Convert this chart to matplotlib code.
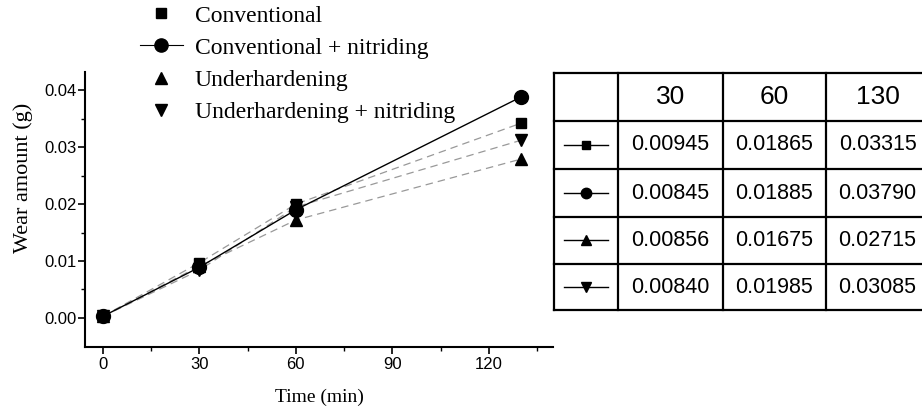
import matplotlib
matplotlib.use("Agg")
import matplotlib.pyplot as plt
from matplotlib.lines import Line2D

# data
time = [0, 30, 60, 130]
conv = [0.0003, 0.0097, 0.0200, 0.0342]
conv_nit = [0.0003, 0.0089, 0.0190, 0.0388]
under = [0.0003, 0.0091, 0.0172, 0.0279]
under_nit = [0.0003, 0.0084, 0.0195, 0.0312]

labels = ["Conventional", "Conventional + nitriding",
          "Underhardening", "Underhardening + nitriding"]
markers = ["s", "o", "^", "v"]
msizes = [7.5, 10, 9, 9]

# table in the figure
tab_cols = ["30", "60", "130"]
tab_vals = [["0.00945", "0.01865", "0.03315"],
            ["0.00845", "0.01885", "0.03790"],
            ["0.00856", "0.01675", "0.02715"],
            ["0.00840", "0.01985", "0.03085"]]

serif = "Liberation Serif"
sans = "Liberation Sans"

W, H = 922, 411
fig = plt.figure(figsize=(W / 100, H / 100), dpi=100)

# main plot, placed in pixel terms
L, R, T, B = 85, 553, 72, 347
ax = fig.add_axes([L / W, (H - B) / H, (R - L) / W, (B - T) / H])

series = [conv, conv_nit, under, under_nit]
for i, ys in enumerate(series):
    if i == 1:
        ax.plot(time, ys, color="black", lw=1.0, zorder=3)
    else:
        ax.plot(time, ys, color="0.6", lw=0.9, ls=(0, (6, 4)), zorder=2)
    ax.plot(time, ys, ls="none", marker=markers[i], ms=msizes[i],
            color="black", zorder=4)

ax.set_xlim(-5.6, 140)
ax.set_ylim(-0.0051, 0.0432)
ax.set_xticks([0, 30, 60, 90, 120])
ax.set_xticks([15, 45, 75, 105, 135], minor=True)
ax.set_yticks([0.0, 0.01, 0.02, 0.03, 0.04])
ax.set_yticks([0.005, 0.015, 0.025, 0.035], minor=True)
ax.set_yticklabels(["0.00", "0.01", "0.02", "0.03", "0.04"])
for s in ["top", "right"]:
    ax.spines[s].set_visible(False)
for s in ["left", "bottom"]:
    ax.spines[s].set_linewidth(1.5)
ax.tick_params(which="major", length=5, width=1.2, labelsize=12, pad=2)
ax.tick_params(axis="y", which="major", pad=1)
ax.tick_params(which="minor", length=3, width=1.0)
for t in ax.get_xticklabels() + ax.get_yticklabels():
    t.set_fontfamily(sans)
ax.set_xlabel("Time (min)", fontsize=14, fontfamily=serif, labelpad=12)
ax.set_ylabel("Wear amount (g)", fontsize=16, fontfamily=serif)
ax.yaxis.set_label_coords(-0.111, 0.615)

# legend at the top
handles = []
for i in range(4):
    handles.append(Line2D([0], [0], color="black", lw=0.8 if i == 1 else 0,
                          marker=markers[i], ms=msizes[i] * 0.95))
fig.legend(handles, labels, loc="upper left",
           bbox_to_anchor=(140 / W, 1.0 - 5 / H), frameon=False,
           prop={"family": serif, "size": 17}, handlelength=1.82,
           handletextpad=0.5, labelspacing=0.45, borderpad=0.0,
           borderaxespad=0.0)

# table on the right
col_x = [0, 64, 169, 272, 375]
row_y = [0, 48, 96, 144, 191, 237]
TL, TT = 554, 73
tab = fig.add_axes([TL / W, (H - (TT + row_y[-1])) / H,
                    col_x[-1] / W, row_y[-1] / H])
tab.set_xlim(0, col_x[-1])
tab.set_ylim(row_y[-1], 0)
tab.axis("off")
for x in col_x:
    tab.plot([x, x], [row_y[0], row_y[-1]], color="black", lw=1.6,
             clip_on=False)
for y in row_y:
    tab.plot([col_x[0], col_x[-1]], [y, y], color="black", lw=1.6,
             clip_on=False)
for j, c in enumerate(tab_cols):
    tab.text((col_x[j + 1] + col_x[j + 2]) / 2, (row_y[0] + row_y[1]) / 2,
             c, ha="center", va="center", fontsize=19, fontfamily=sans)
for i, row in enumerate(tab_vals):
    yc = (row_y[i + 1] + row_y[i + 2]) / 2
    for j, v in enumerate(row):
        tab.text((col_x[j + 1] + col_x[j + 2]) / 2, yc, v,
                 ha="center", va="center", fontsize=15.5, fontfamily=sans)
    tab.plot([col_x[0] + 10, col_x[1] - 10], [yc, yc], color="black",
             lw=1.0)
    tab.plot([(col_x[0] + col_x[1]) / 2], [yc], marker=markers[i],
             ms=msizes[i] * 0.75, color="black")

fig.savefig("out.png", dpi=100)
